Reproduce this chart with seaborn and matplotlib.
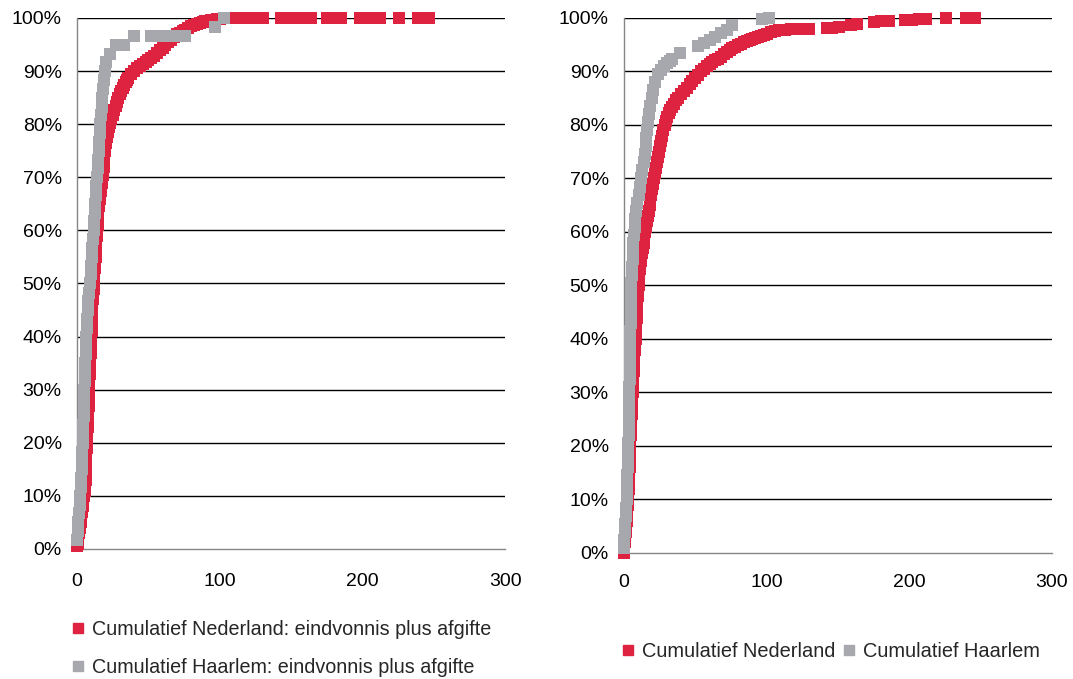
import pandas as pd
import seaborn as sns
import matplotlib.pyplot as plt
from matplotlib.lines import Line2D
from matplotlib.ticker import PercentFormatter

# left panel: eindvonnis plus afgifte
nl_left_x = [0, 0.5, 1, 1.5, 2, 2.5, 3, 3.5, 4, 4.5, 5, 5.5, 6, 6.3, 6.6, 6.9, 7.2, 7.5, 7.8,
             8.1, 8.4, 8.7, 9, 9.3, 9.6, 9.9, 10.2, 10.5, 10.8, 11.2, 11.6, 12, 12.5, 13, 13.5,
             14, 14.5, 15, 15.6, 16.2, 16.8, 17.4, 18, 18.6, 19.2, 19.8, 20.4, 21, 21.6, 22.2,
             23, 24, 25, 26, 27, 28, 29, 30, 31, 32, 33, 34, 35, 36, 38, 40, 42, 44, 46, 48,
             50, 52, 54, 56, 58, 60, 62, 64, 66, 68, 70, 72, 74, 76, 78, 80, 82, 84, 86, 88,
             90, 92, 94, 96, 98, 100,
             104, 108, 112, 116, 120, 125, 130, 143, 147, 151, 155, 160, 164,
             175, 180, 185, 198, 202, 206, 212, 226, 239, 243, 247]
nl_left_y = [0.5, 1, 2, 3, 4, 5, 6, 7, 8, 9, 10, 11, 13, 15, 17, 19, 21, 23, 25,
             27, 29, 31, 33, 35, 37, 39, 41, 43, 45, 47, 49, 51, 53, 55, 57,
             59, 61, 63, 64.5, 66, 67.5, 69, 70.5, 72, 73.5, 75, 76.5, 77.5, 78.5, 79.5,
             80.3, 81, 81.8, 82.6, 83.4, 84.2, 85, 85.7, 86.3, 86.9, 87.4, 87.9, 88.3, 88.7,
             89.4, 90, 90.5, 90.9, 91.3, 91.7, 92.1, 92.5, 92.9, 93.4, 93.9, 94.4, 94.9, 95.4,
             95.9, 96.4, 96.9, 97.2, 97.5, 97.8, 98.1, 98.4, 98.6, 98.8, 99, 99.2, 99.4, 99.5,
             99.6, 99.7, 99.8, 99.9,
             100, 100, 100, 100, 100, 100, 100, 100, 100, 100, 100, 100, 100,
             100, 100, 100, 100, 100, 100, 100, 100, 100, 100, 100]
hl_left_x = [0, 0.5, 1, 1.5, 2, 2.3, 2.6, 2.9, 3.2, 3.5, 3.8, 4, 4.2, 4.4, 4.6, 4.8, 5, 5.2,
             5.4, 5.6, 5.8, 6, 6.3, 6.6, 6.9, 7.2, 7.6, 8, 8.5, 9, 9.5, 10, 10.4, 10.8, 11.2,
             11.6, 12, 12.4, 12.8, 13.2, 13.6, 14, 14.4, 14.8, 15.2, 15.6, 16, 16.4, 16.8,
             17.2, 17.8, 18.4, 19, 19.6, 20.5, 23, 27, 30, 33, 40, 52, 56, 60, 64, 68, 72,
             76, 97, 103]
hl_left_y = [1.7, 3.3, 5, 6.7, 8.3, 10, 11.7, 13.3, 15, 16.7, 18.3, 20, 21.7, 23.3, 25,
             26.7, 28.3, 30, 31.7, 33.3, 35, 36.7, 38.3, 40, 41.7, 43.3, 45, 46.7, 48.3, 50,
             51.7, 53.3, 55, 56.7, 58.3, 60, 61.7, 63.3, 65, 66.7, 68.3, 70, 71.7, 73.3, 75,
             76.7, 78.3, 80, 81.7, 83.3, 85, 86.7, 88.3, 90, 91.7, 93.3, 95, 95, 95, 96.7,
             96.7, 96.7, 96.7, 96.7, 96.7, 96.7, 96.7, 98.3, 100]

# right panel
nl_right_x = [0, 0.3, 0.6, 0.9, 1.2, 1.5, 1.8, 2.1, 2.4, 2.7, 3, 3.3, 3.6, 3.9, 4.2, 4.5,
              4.8, 5.1, 5.4, 5.7, 6, 6.4, 6.8, 7.2, 7.7, 8.2, 8.6, 9, 9.4, 9.8, 10.2, 10.8,
              11.4, 12, 12.6, 13.2, 13.8, 14.4, 15, 15.6, 16.2, 16.8, 17.4, 18, 18.6, 19.2,
              19.8, 20.4, 21, 21.7, 22.4, 23.1, 23.8, 24.5, 25.2, 26, 26.8, 27.6, 28.5, 29.5,
              30.5, 31.5, 32.5, 33.5, 35, 36.5, 38, 40, 42, 44, 46, 48, 50, 52, 54, 56, 58,
              60, 62, 64, 66, 68, 70, 72, 74, 76, 78, 80, 82, 84, 86, 88, 90, 92, 94, 96, 98,
              100, 103, 106, 109, 113, 117, 121, 125, 130, 142, 146, 151, 159, 163, 175, 180,
              186, 197, 202, 207, 212, 226, 240, 246]
nl_right_y = [0, 1, 2, 3, 4, 5, 6, 7, 8, 9, 10, 12, 14, 16, 18, 20, 22, 24, 26, 28, 30, 32,
              34, 36, 38, 40, 42, 44, 46, 48, 50, 51.5, 53, 54.5, 56, 57, 58, 59, 60, 61, 62,
              63, 64, 65, 66, 67, 68, 69, 70, 71, 72, 73, 74, 75, 76, 77, 78, 79, 80, 80.8,
              81.5, 82.2, 82.8, 83.3, 84, 84.6, 85.1, 85.8, 86.4, 87, 87.6, 88.2, 88.8, 89.4,
              90, 90.5, 91, 91.4, 91.8, 92.1, 92.4, 92.8, 93.2, 93.6, 94, 94.3, 94.6, 94.9,
              95.2, 95.5, 95.7, 95.9, 96.1, 96.3, 96.5, 96.7, 96.9, 97.1, 97.3, 97.5, 97.7,
              97.8, 97.9, 97.9, 98, 98, 98.1, 98.2, 98.3, 98.7, 98.8, 99.3, 99.4, 99.5, 99.7,
              99.7, 99.8, 99.8, 100, 100, 100]
hl_right_x = [0, 0.3, 0.6, 0.9, 1.2, 1.5, 1.8, 2, 2.2, 2.4, 2.6, 2.8, 3, 3.1, 3.2, 3.3,
              3.4, 3.5, 3.6, 3.7, 3.8, 3.9, 4, 4.1, 4.2, 4.3, 4.4, 4.5, 4.6, 4.7, 4.8, 4.9,
              5, 5.2, 5.4, 5.7, 6, 6.3, 6.6, 7, 7.5, 8, 8.7, 9.4, 10.2, 11, 12, 13, 13.8,
              14.5, 15.2, 15.8, 16.4, 17, 17.8, 18.6, 19.5, 20.5, 22, 24, 26, 28, 30, 32,
              34, 39, 52, 56, 60, 64, 68, 72, 76, 97, 102]
hl_right_y = [1, 2.5, 4, 5.5, 7, 8.5, 10, 11.5, 13, 14.5, 16, 17.5, 19, 20.5, 22, 23.5,
              25, 26.5, 28, 29.5, 31, 32.5, 34, 35.5, 37, 38.5, 40, 41.5, 43, 44.5, 46,
              47.5, 49, 50.5, 52, 53.5, 55, 56.5, 58, 59.5, 61, 62.5, 64, 65.5, 67, 68.5,
              70, 71.5, 73, 74.5, 76, 77.5, 79, 80.5, 82, 83.5, 85, 86.5, 88, 89.5, 90.3,
              91, 91.6, 92, 92.3, 93.5, 94.7, 95.3, 95.8, 96.4, 97.2, 97.8, 98.7, 99.8, 100]

RED = '#DE2340'
GREY = '#A6A8AD'

sns.set_theme(style='white')
plt.rcParams['font.family'] = ['Liberation Sans', 'DejaVu Sans']

fig = plt.figure(figsize=(10.73, 6.79), dpi=100)
ax1 = fig.add_axes([0.0718, 0.1915, 0.3989, 0.782])
ax2 = fig.add_axes([0.5815, 0.1856, 0.3989, 0.7879])


def panel(ax, nx, ny, hx, hy, xpad):
    nl = pd.DataFrame({'x': nx, 'y': ny})
    hl = pd.DataFrame({'x': hx, 'y': hy})
    sns.scatterplot(data=nl, x='x', y='y', ax=ax, marker='s', s=70, color=RED,
                    linewidth=0, zorder=3, clip_on=False)
    sns.scatterplot(data=hl, x='x', y='y', ax=ax, marker='s', s=70, color=GREY,
                    linewidth=0, zorder=4, clip_on=False)
    ax.set_xlim(0, 300)
    ax.set_ylim(0, 100)
    ax.set_xticks([0, 100, 200, 300])
    ax.set_yticks(range(0, 101, 10))
    ax.yaxis.set_major_formatter(PercentFormatter(decimals=0))
    for v in range(10, 101, 10):
        ax.axhline(v, color='black', lw=1, zorder=1)
    ax.set_xlabel('')
    ax.set_ylabel('')
    for s in ['top', 'right']:
        ax.spines[s].set_visible(False)
    for s in ['left', 'bottom']:
        ax.spines[s].set_color('#868686')
        ax.spines[s].set_linewidth(1)
    ax.tick_params(axis='x', length=0, pad=xpad, labelsize=14, colors='black')
    ax.tick_params(axis='y', length=0, pad=11, labelsize=14, colors='black')


panel(ax1, nl_left_x, nl_left_y, hl_left_x, hl_left_y, 17)
panel(ax2, nl_right_x, nl_right_y, hl_right_x, hl_right_y, 15)


def handle(c):
    return Line2D([], [], marker='s', color=c, linestyle='', markersize=7.5)


fig.legend([handle(RED), handle(GREY)],
           ['Cumulatief Nederland: eindvonnis plus afgifte',
            'Cumulatief Haarlem: eindvonnis plus afgifte'],
           loc='center left', bbox_to_anchor=(0.057, 0.045), frameon=False,
           fontsize=14.2, handlelength=0.7, handletextpad=0.35, labelspacing=0.95,
           borderpad=0)
fig.legend([handle(RED), handle(GREY)],
           ['Cumulatief Nederland', 'Cumulatief Haarlem'],
           loc='center left', bbox_to_anchor=(0.569, 0.041), frameon=False, ncol=2,
           fontsize=14.4, handlelength=0.7, handletextpad=0.35, columnspacing=0.35,
           borderpad=0)

fig.savefig('out.png', dpi=100)
